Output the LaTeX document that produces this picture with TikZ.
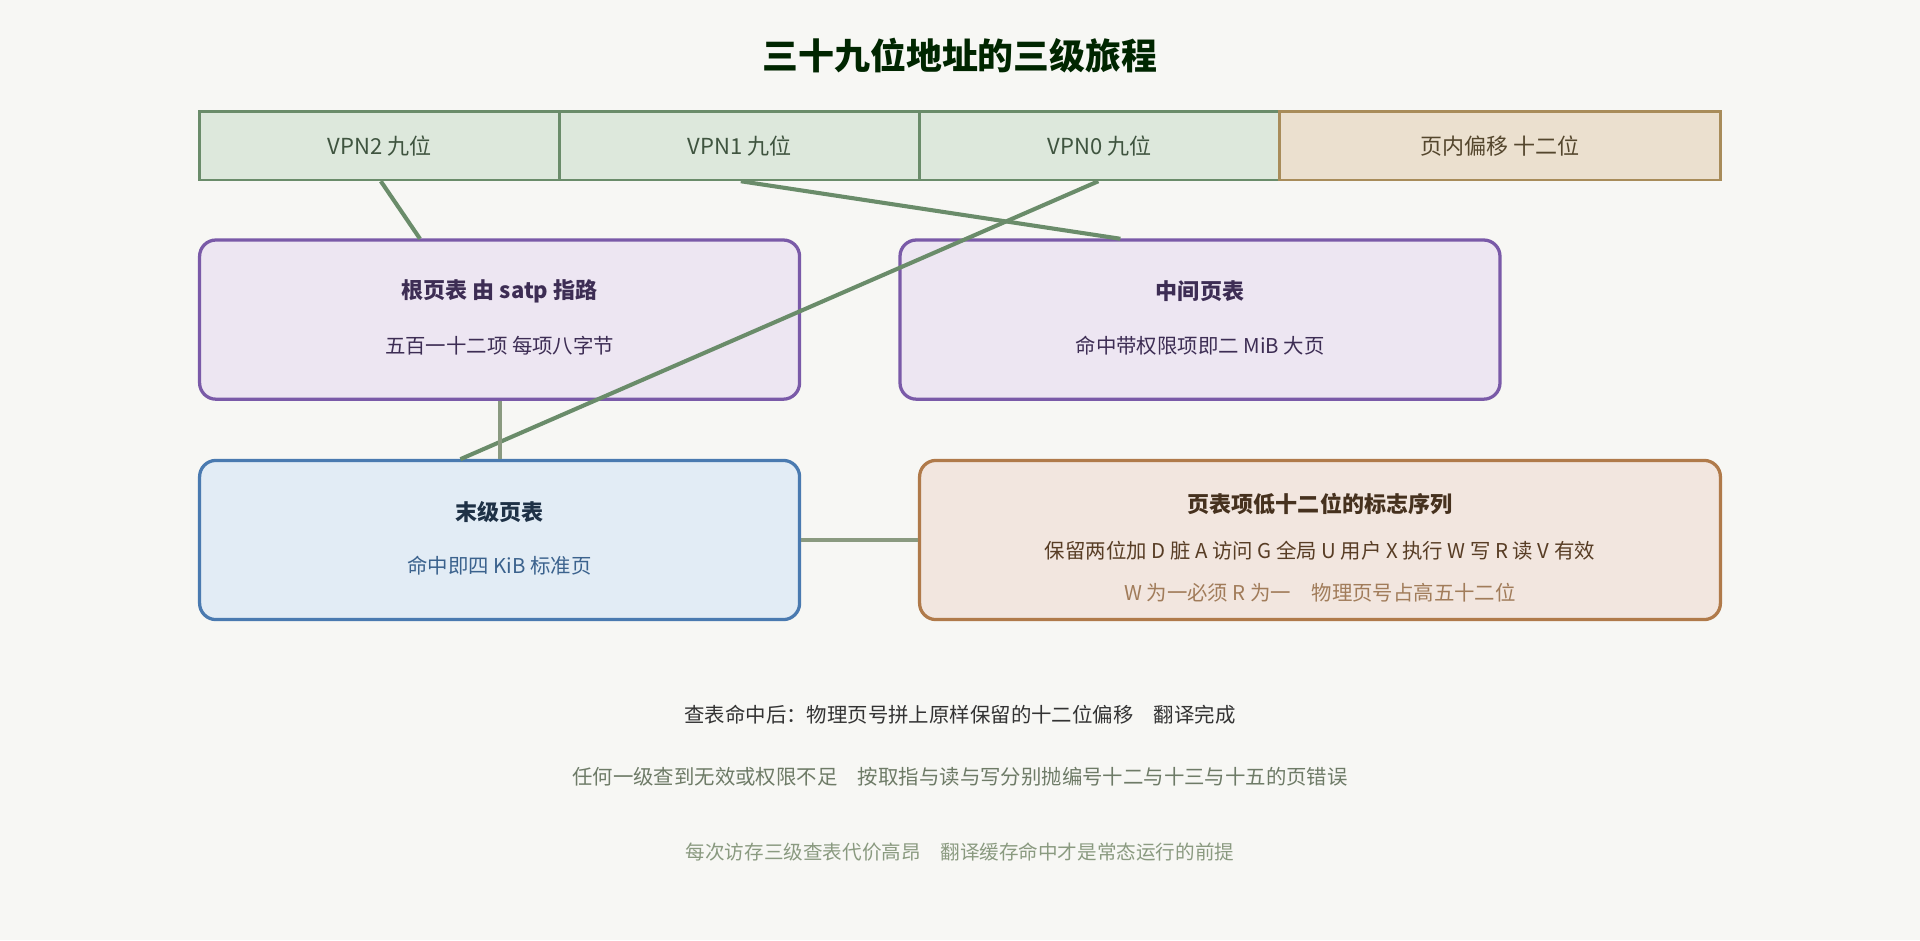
\documentclass[tikz,border=0pt]{standalone}
\usepackage{fontspec}
\setmainfont{Noto Sans CJK SC}
\begin{document}
\definecolor{bg}{HTML}{F7F7F4}
\definecolor{gfill}{HTML}{DDE8DC}\definecolor{gline}{HTML}{6A8C6A}
\definecolor{tfill}{HTML}{EBE0CF}\definecolor{tline}{HTML}{A88C5A}
\definecolor{pfill}{HTML}{EDE6F2}\definecolor{pline}{HTML}{7A5AA8}
\definecolor{bfill}{HTML}{E2ECF5}\definecolor{bline}{HTML}{4A7AB0}
\definecolor{ofill}{HTML}{F2E6DF}\definecolor{oline}{HTML}{B07A4A}
\definecolor{gray1}{HTML}{8A9A80}
\begin{tikzpicture}[x=0.75pt,y=-0.75pt,
 seg/.style={draw=gline,fill=gfill,line width=1.5pt,minimum height=42pt,inner sep=0,font=\fontsize{13.5}{16}\selectfont,text=gline!60!black},
 box/.style={rounded corners=10pt,line width=2pt,minimum height=97.5pt,minimum width=367.5pt,inner sep=0},
 ttl/.style={font=\bfseries\fontsize{13.5}{16}\selectfont},
 sub/.style={font=\fontsize{12.5}{15}\selectfont},
 conn/.style={gline,line width=2.5pt}]
\fill[bg] (0,0) rectangle (1568,768);
\useasboundingbox (0,0) rectangle (1568,768);
\node[font=\bfseries\fontsize{22}{26}\selectfont,text=black!85!green] (title) at (784,45) {三十九位地址的三级旅程};
\node[seg,minimum width=220.5pt] (v2) at (310,119) {VPN2 九位};
\node[seg,minimum width=220.5pt] (v1) at (604,119) {VPN1 九位};
\node[seg,minimum width=220.5pt] (v0) at (898,119) {VPN0 九位};
\node[seg,draw=tline,fill=tfill,text=tline!50!black,minimum width=270pt] (off) at (1225,119) {页内偏移 十二位};
\node[box,draw=pline,fill=pfill] (root) at (408,261) {};
\node[ttl,text=pline!50!black] (rt) at (408,238) {根页表 由 satp 指路};
\node[sub,text=pline!50!black] (rs) at (408,282) {五百一十二项 每项八字节};
\node[box,draw=pline,fill=pfill] (mid) at (980,261) {};
\node[ttl,text=pline!50!black] (mt) at (980,238) {中间页表};
\node[sub,text=pline!50!black] (ms) at (980,282) {命中带权限项即二 MiB 大页};
\node[box,draw=bline,fill=bfill] (leaf) at (408,441) {};
\node[ttl,text=bline!40!black] (lt) at (408,418) {末级页表};
\node[sub,text=bline!80!black] (ls) at (408,462) {命中即四 KiB 标准页};
\node[box,draw=oline,fill=ofill,minimum width=490.5pt] (flag) at (1078,441) {};
\node[ttl,text=oline!40!black] (ft) at (1078,412) {页表项低十二位的标志序列};
\node[sub,text=oline!50!black] (fs) at (1078,450) {保留两位加 D 脏 A 访问 G 全局 U 用户 X 执行 W 写 R 读 V 有效};
\node[sub,text=oline!70!gray] (fs2) at (1078,484) {W 为一必须 R 为一\quad 物理页号占高五十二位};
\draw[conn] (311,148) -- (343,195);
\draw[conn] (605,148) -- (915,195);
\draw[conn] (897,148) -- (376,375);
\draw[gray1,line width=2.5pt] (root.south) -- (leaf.north);
\draw[gray1,line width=2.5pt] (leaf.east) -- (flag.west);
\node[sub,text=black!80] (n1) at (784,584) {查表命中后：物理页号拼上原样保留的十二位偏移\quad 翻译完成};
\node[sub,text=gray1!80!black] (n2) at (784,634) {任何一级查到无效或权限不足\quad 按取指与读与写分别抛编号十二与十三与十五的页错误};
\node[sub,text=gray1,font=\fontsize{12}{14}\selectfont] (n3) at (784,696) {每次访存三级查表代价高昂\quad 翻译缓存命中才是常态运行的前提};
\end{tikzpicture}
\end{document}
